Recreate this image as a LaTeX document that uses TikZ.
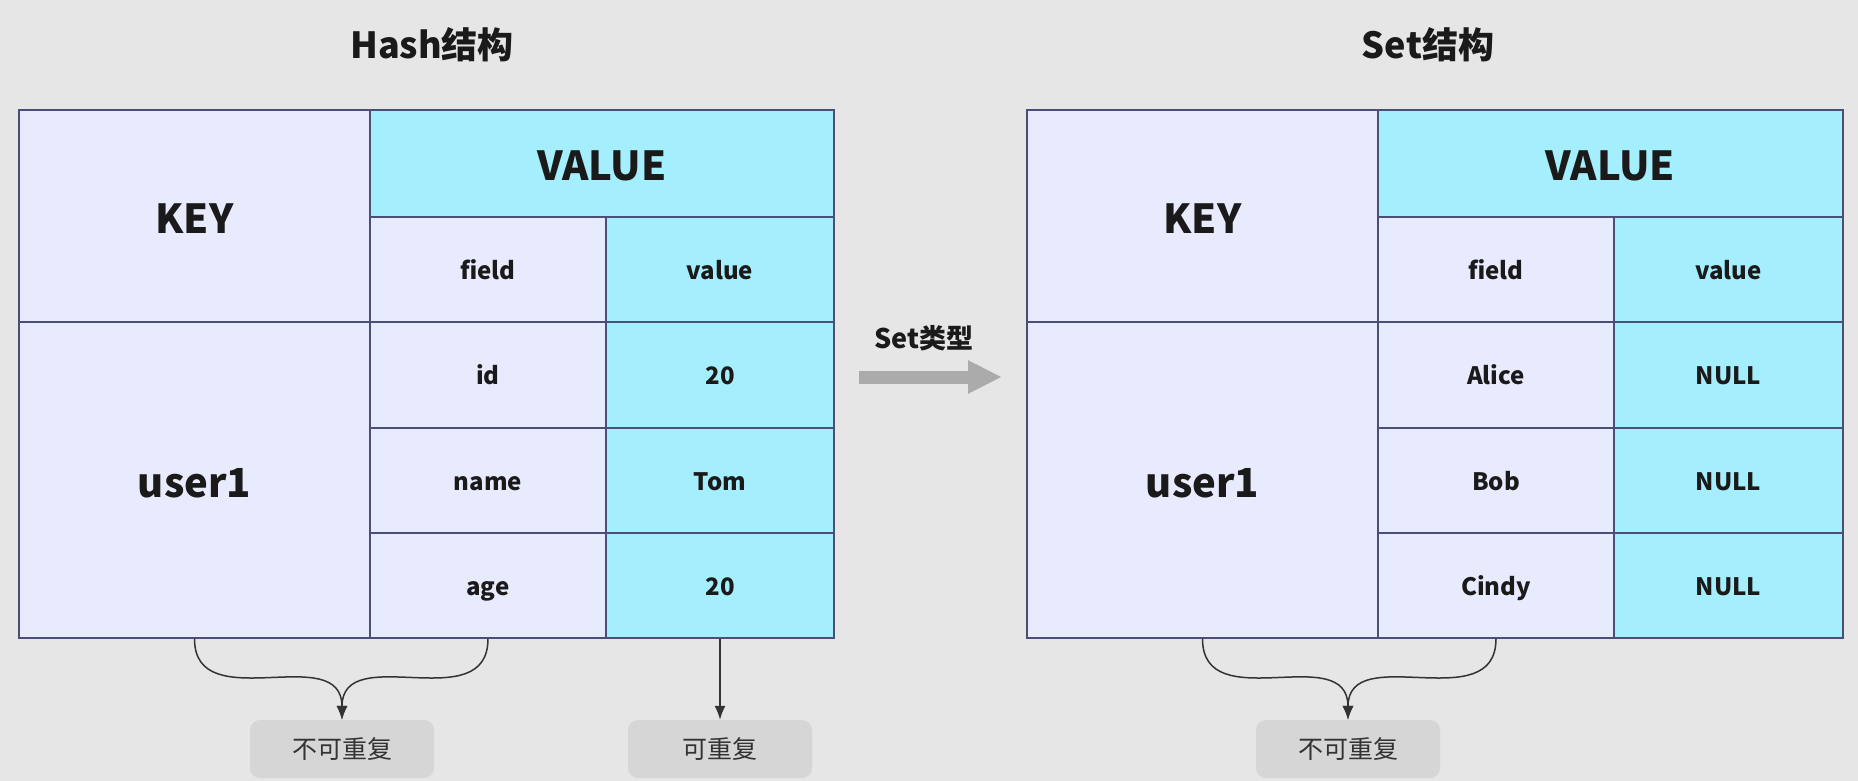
\documentclass[tikz,border=0pt]{standalone}
\usepackage{fontspec}
\setmainfont{Noto Sans CJK SC}
\usepackage{tikz}
\usetikzlibrary{arrows.meta}
\usetikzlibrary{calc}
\usepackage{xcolor}

\definecolor{bgcol}{HTML}{E6E6E6}
\definecolor{keycol}{HTML}{E8EAFD}
\definecolor{valcol}{HTML}{A5EEFD}
\definecolor{linecol}{HTML}{4A4E78}
\definecolor{tagcol}{HTML}{D6D6D6}
\definecolor{txtcol}{HTML}{1A1A1A}

\tikzset{
  cell/.style={draw=linecol, line width=1.5pt, inner sep=0pt, text=txtcol, text height=19pt, text depth=0pt,
    font=\bfseries\fontsize{24}{28}\selectfont},
  keycell/.style={cell, fill=keycol},
  valcell/.style={cell, fill=valcol},
  bigtxt/.style={font=\bfseries\fontsize{40}{46}\selectfont, text height=34pt},
  tag/.style={fill=tagcol, rounded corners=10pt, minimum width=184pt, minimum height=58pt, inner sep=0pt,
    text=black!80, font=\fontsize{25}{30}\selectfont},
  link/.style={draw=black!80, line width=1.5pt, -{Latex[length=14pt,width=11pt]}}
}

\begin{document}
\begin{tikzpicture}[x=1pt,y=-1pt]
  \fill[bgcol] (0,0) rectangle (1858,781);
  \useasboundingbox (0,0) rectangle (1858,781);

  % titles
  \node[font=\bfseries\fontsize{36}{42}\selectfont, text=txtcol] (htitle) at (432,45) {Hash结构};
  \node[font=\bfseries\fontsize{36}{42}\selectfont, text=txtcol] (stitle) at (1428,45) {Set结构};

  % hash table
  \node[keycell, bigtxt, minimum width=351pt, minimum height=212pt] (hkey) at (194.5,216) {KEY};
  \node[valcell, bigtxt, minimum width=464pt, minimum height=107pt] (hval) at (602,163.5) {VALUE};
  \node[keycell, minimum width=236pt, minimum height=105pt] (hfield) at (488,269.5) {field};
  \node[valcell, minimum width=228pt, minimum height=105pt] (hvalue) at (720,269.5) {value};
  \node[keycell, bigtxt, minimum width=351pt, minimum height=316pt] (huser) at (194.5,480) {user1};
  \node[keycell, minimum width=236pt, minimum height=106pt] (hid) at (488,375) {id};
  \node[valcell, minimum width=228pt, minimum height=106pt] (hidv) at (720,375) {20};
  \node[keycell, minimum width=236pt, minimum height=105pt] (hname) at (488,480.5) {name};
  \node[valcell, minimum width=228pt, minimum height=105pt] (hnamev) at (720,480.5) {Tom};
  \node[keycell, minimum width=236pt, minimum height=105pt] (hage) at (488,585.5) {age};
  \node[valcell, minimum width=228pt, minimum height=105pt] (hagev) at (720,585.5) {20};

  % set table
  \node[keycell, bigtxt, minimum width=351pt, minimum height=212pt] (skey) at (1202.5,216) {KEY};
  \node[valcell, bigtxt, minimum width=465pt, minimum height=107pt] (sval) at (1610.5,163.5) {VALUE};
  \node[keycell, minimum width=236pt, minimum height=105pt] (sfield) at (1496,269.5) {field};
  \node[valcell, minimum width=229pt, minimum height=105pt] (svalue) at (1728.5,269.5) {value};
  \node[keycell, bigtxt, minimum width=351pt, minimum height=316pt] (suser) at (1202.5,480) {user1};
  \node[keycell, minimum width=236pt, minimum height=106pt] (salice) at (1496,375) {Alice};
  \node[valcell, minimum width=229pt, minimum height=106pt] (salicev) at (1728.5,375) {NULL};
  \node[keycell, minimum width=236pt, minimum height=105pt] (sbob) at (1496,480.5) {Bob};
  \node[valcell, minimum width=229pt, minimum height=105pt] (sbobv) at (1728.5,480.5) {NULL};
  \node[keycell, minimum width=236pt, minimum height=105pt] (scindy) at (1496,585.5) {Cindy};
  \node[valcell, minimum width=229pt, minimum height=105pt] (scindyv) at (1728.5,585.5) {NULL};

  % middle arrow
  \coordinate (ma) at (859,377);
  \coordinate (mb) at (1002,377);
  \draw[line width=13pt, color=black!33, -{Triangle[length=34pt,width=31pt]}] (ma) -- (mb);
  \node[font=\bfseries\fontsize{27}{32}\selectfont, text=txtcol] (mlabel) at (924,338) {Set类型};

  % tags
  \node[tag] (hnorep) at (342,749) {不可重复};
  \node[tag] (hrep) at (720,749) {可重复};
  \node[tag] (snorep) at (1348,749) {不可重复};

  \draw[link] (huser.south) .. controls +(0,80) and +(0,-80) .. (hnorep.north);
  \draw[link] (hage.south) .. controls +(0,80) and +(0,-80) .. (hnorep.north);
  \draw[link] (hagev.south) -- (hrep.north);
  \draw[link] (suser.south) .. controls +(0,80) and +(0,-80) .. (snorep.north);
  \draw[link] (scindy.south) .. controls +(0,80) and +(0,-80) .. (snorep.north);
\end{tikzpicture}
\end{document}
